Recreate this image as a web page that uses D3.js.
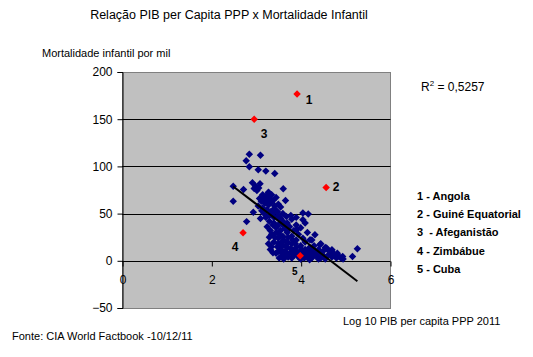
<!DOCTYPE html>
<html>
<head>
<meta charset="utf-8">
<script src="https://cdn.jsdelivr.net/npm/d3@7"></script>
<style>
  html, body { margin: 0; padding: 0; background: #fff; }
  svg { display: block; font-family: "Liberation Sans", Arial, sans-serif; }
</style>
</head>
<body>
<svg id="chart" width="533" height="357"></svg>
<script>
// ---- data ----
const title = "Relação PIB per Capita PPP x Mortalidade Infantil";
const yAxisTitle = "Mortalidade infantil por mil";
const xAxisTitle = "Log 10 PIB per capita PPP 2011";
const sourceNote = "Fonte: CIA World Factbook -10/12/11";

const xTicks = [0, 2, 4, 6];
const yTicks = [-50, 0, 50, 100, 150, 200];
const gridValues = [0, 50, 100, 150];

// countries (log10 GDP per capita PPP, infant mortality per 1000)
const countryX = [
  2.85, 3.10, 2.78, 2.85, 3.05, 3.22, 3.42,
  2.92, 2.99, 3.09, 2.96, 3.02, 3.06,
  2.49, 2.72, 3.61, 2.49, 3.28, 3.66, 2.94, 2.79, 3.10, 4.05, 4.17, 4.05, 4.32, 5.27, 5.16, 4.94, 3.59,
  3.15, 3.22, 3.30, 3.38, 3.45, 3.12, 3.20, 3.28, 3.35, 3.42, 3.50, 3.05, 3.15, 3.25, 3.33, 3.40, 3.48, 3.55, 3.18, 3.30, 3.40, 3.50, 3.60, 3.08, 3.35, 3.25, 3.45, 3.55,
  3.30, 3.40, 3.50, 3.60, 3.70, 3.80, 3.75, 3.65, 3.55, 3.45, 3.35, 3.90, 3.85, 3.95, 3.70, 3.60, 3.50, 3.80, 4.00, 3.25, 3.90, 3.68, 3.45, 3.58, 3.78, 4.10, 4.15, 4.05,
  3.40, 3.50, 3.60, 3.70, 3.80, 3.90, 4.00, 4.10, 4.20, 4.30, 4.40, 4.50, 4.60, 4.70, 4.80, 3.55, 3.65, 3.75, 3.85, 3.95, 4.05, 4.15, 4.25, 4.35, 4.45, 4.55, 4.65, 4.75, 4.85, 3.70, 3.90, 4.00, 4.10, 4.20, 4.30, 4.40, 4.50, 4.60, 4.70, 3.45, 3.60, 3.80, 4.00, 4.20, 4.40, 3.35, 3.50, 4.25, 4.45, 4.55, 4.82, 4.90, 4.95,
  4.58, 4.70, 4.43, 4.21, 3.91, 3.30, 3.28, 3.38, 3.32,
  3.52, 3.62, 3.72, 3.82, 3.92, 4.02, 4.12, 4.22, 4.32, 4.42, 3.58, 3.68, 3.88, 3.98, 4.08, 4.18, 4.28,
  3.32, 3.42, 3.52, 3.62, 3.72, 3.82, 3.48, 3.58, 3.68, 3.78, 3.88, 3.38, 3.52, 3.62, 3.72,
  3.13, 3.22, 3.28, 3.38, 3.18
];
const countryY = [
  112.8, 111.7, 106, 99.7, 96.5, 95, 92.6,
  82.7, 79, 81.6, 76.6, 74.5, 77,
  79, 75.5, 76.3, 63, 72.7, 63.8, 51.4, 41.5, 44.7, 50.7, 49.7, 43.6, 27.7, 12.8, 4.6, 4.6, 5.6,
  70, 68, 66, 64, 67, 63, 61, 59, 62, 58, 60, 58, 56, 54, 52, 55, 52, 57, 50, 48, 46, 48, 50, 66, 70, 64, 53, 45,
  42, 40, 38, 42, 40, 44, 36, 34, 32, 30, 28, 38, 32, 28, 30, 26, 24, 26, 35, 36, 46, 47, 35, 39, 48, 40, 30, 24,
  20, 18, 16, 20, 18, 14, 16, 12, 14, 10, 8, 6, 5, 4, 3, 12, 10, 8, 6, 4, 6, 4, 3, 5, 3, 2, 7, 6, 5, 14, 22, 10, 20, 8, 16, 12, 10, 12, 10, 8, 5, 3, 2, 1, 2, 15, 10, 22, 18, 14, 8, 3, 2,
  13.5, 11.7, 17, 22.3, 33, 25, 18, 8.5, 12,
  3, 2, 4, 9, 8, 12, 9, 5, 7, 5, 8, 6, 11, 7, 3, 11, 12,
  32, 25, 28, 22, 25, 22, 15, 20, 17, 13, 18, 38, 44, 37, 33,
  53, 46, 72, 50, 66
];

// highlighted countries
const highlightNumbers = ["1", "2", "3", "4", "5"];
const highlightNames = ["Angola", "Guiné Equatorial", "Afeganistão", "Zimbábue", "Cuba"];
const highlightX = [3.92, 4.57, 2.96, 2.71, 3.99];
const highlightY = [176.6, 77.6, 150.0, 29.8, 5.3];
const legendLabels = ["1 - Angola", "2 - Guiné Equatorial", "3  - Afeganistão", "4 - Zimbábue", "5 - Cuba"];

// linear trendline (from picture)
const trendSlope = -36.1;
const trendIntercept = 168.6;
const rSquared = "0,5257";

// ---- drawing ----
const svg = d3.select("#chart");
const plotLeft = 122, plotRight = 390, plotTop = 72, plotBottom = 308;

const x = d3.scaleLinear().domain([0, 6]).range([plotLeft, plotRight]);
const y = d3.scaleLinear().domain([-50, 200]).range([plotBottom, plotTop]);

// plot area
svg.append("rect")
  .attr("x", plotLeft + 0.5).attr("y", plotTop + 0.5)
  .attr("width", plotRight - plotLeft).attr("height", plotBottom - plotTop)
  .attr("fill", "#c0c0c0").attr("stroke", "#808080");

// gridlines
svg.append("g").selectAll("line").data(gridValues).join("line")
  .attr("x1", plotLeft).attr("x2", plotRight + 0.5)
  .attr("y1", d => Math.round(y(d)) + 0.5).attr("y2", d => Math.round(y(d)) + 0.5)
  .attr("stroke", "#000").attr("stroke-width", 1);

// y axis
const yAxis = svg.append("g")
  .attr("transform", `translate(${plotLeft + 0.5},0)`)
  .call(d3.axisLeft(y).tickValues(yTicks).tickSize(5).tickPadding(5).tickFormat(d3.format("d")));
yAxis.select(".domain").attr("stroke", "#000");
yAxis.selectAll("line").attr("stroke", "#000");
yAxis.selectAll("text").attr("font-size", 12).attr("fill", "#000")
  .attr("font-family", "'Liberation Sans', Arial, sans-serif");

// x axis at y = 0
const xAxis = svg.append("g")
  .attr("transform", `translate(0.5,${Math.round(y(0)) + 0.5})`)
  .call(d3.axisBottom(x).tickValues(xTicks).tickSize(5).tickPadding(9).tickFormat(d3.format("d")));
xAxis.select(".domain").remove();
xAxis.selectAll("line").attr("stroke", "#000");
xAxis.selectAll("text").attr("font-size", 12).attr("fill", "#000")
  .attr("font-family", "'Liberation Sans', Arial, sans-serif");

// diamond symbol
const diamond = d3.symbol().type(d3.symbolSquare).size(28);

// country points
const pts = countryX.map((v, i) => [v, countryY[i]]);
svg.append("g").selectAll("path").data(pts).join("path")
  .attr("d", diamond)
  .attr("transform", d => `translate(${x(d[0])},${y(d[1])}) rotate(45)`)
  .attr("fill", "#000080");

// trendline
const xMin = d3.min(countryX), xMax = d3.max(countryX);
svg.append("line")
  .attr("x1", x(xMin)).attr("y1", y(trendIntercept + trendSlope * xMin))
  .attr("x2", x(xMax)).attr("y2", y(trendIntercept + trendSlope * xMax))
  .attr("stroke", "#000").attr("stroke-width", 2);

// highlighted points
const hl = highlightX.map((v, i) => ({ x: v, y: highlightY[i], n: highlightNumbers[i] }));
svg.append("g").selectAll("path").data(hl).join("path")
  .attr("d", diamond)
  .attr("transform", d => `translate(${x(d.x)},${y(d.y)}) rotate(45)`)
  .attr("fill", "#ff0000");

// number labels (pixel offsets from their points)
const labelDx = [12, 10, 10, -8, -5.5];
const labelDy = [10, 3.5, 19, 18, 19];
const labelSize = [12, 12, 12, 12, 10];
svg.append("g").selectAll("text").data(hl).join("text")
  .attr("x", (d, i) => x(d.x) + labelDx[i])
  .attr("y", (d, i) => y(d.y) + labelDy[i])
  .attr("text-anchor", "middle")
  .attr("font-size", (d, i) => labelSize[i]).attr("font-weight", "bold")
  .text(d => d.n);

// title and texts
svg.append("text").attr("x", 229).attr("y", 19).attr("text-anchor", "middle")
  .attr("font-size", 12.5).text(title);
svg.append("text").attr("x", 42).attr("y", 57).attr("font-size", 11).text(yAxisTitle);
svg.append("text").attr("x", 343).attr("y", 325).attr("font-size", 11).text(xAxisTitle);
svg.append("text").attr("x", 12).attr("y", 340).attr("font-size", 11).text(sourceNote);

// R²
const rt = svg.append("text").attr("x", 421).attr("y", 91).attr("font-size", 12);
rt.append("tspan").text("R");
rt.append("tspan").attr("dy", -5).attr("font-size", 8).text("2");
rt.append("tspan").attr("dy", 5).text(" = " + rSquared);

// legend
svg.append("g").selectAll("text").data(legendLabels).join("text")
  .attr("x", 417).attr("y", (d, i) => 200 + i * 18.2)
  .attr("font-size", 11).attr("font-weight", "bold")
  .style("white-space", "pre")
  .text(d => d);
</script>
</body>
</html>
